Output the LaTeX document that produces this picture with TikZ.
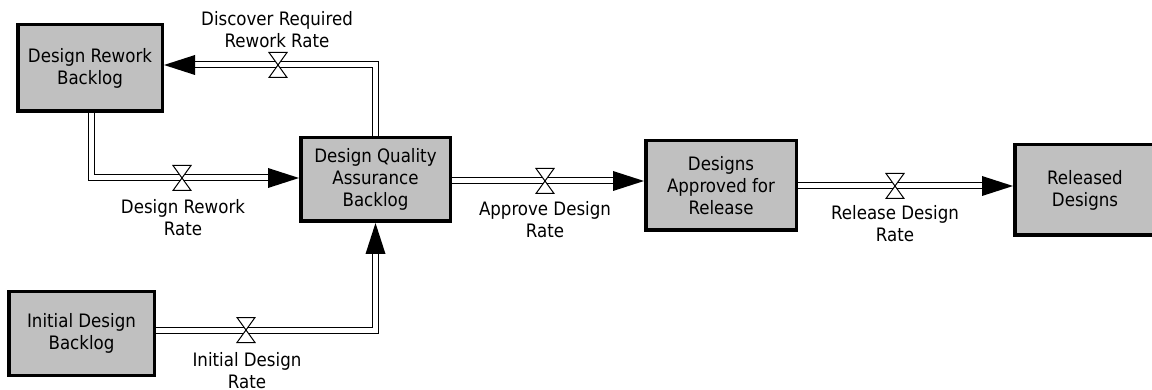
\documentclass[tikz,border=0pt]{standalone}
\usepackage{fontspec}
\setmainfont{DejaVu Sans Condensed}
\usetikzlibrary{calc}
\definecolor{boxgray}{RGB}{192,192,192}
\tikzset{
  stock/.style={draw=black, fill=boxgray, line width=3.5pt, inner sep=0pt, outer sep=1.75pt,
    align=center, font=\fontsize{18.5}{22}\selectfont, line join=miter},
  lbl/.style={align=center, font=\fontsize{18.5}{22}\selectfont, inner sep=0pt},
  pipe/.style={draw=black, double=white, double distance=5pt, line width=1pt, line join=miter},
  valve/.pic={\draw[line width=1pt, fill=white, line join=miter] (-9,-12.5) -- (9,-12.5) -- (-9,12.5) -- (9,12.5) -- cycle;},
}
\begin{document}
\begin{tikzpicture}[x=1pt,y=-1pt]
\useasboundingbox (0,0) rectangle (1152,390);
\clip (0,0) rectangle (1152,390);
% stocks
\node[stock, minimum width=144.5pt, minimum height=86.5pt] (drb) at (90,68) {Design Rework\\Backlog};
\node[stock, minimum width=149.5pt, minimum height=83.5pt] (dqa) at (375.5,179.5) {Design Quality\\Assurance\\Backlog};
\node[stock, minimum width=145.5pt, minimum height=83.5pt] (idb) at (81.5,333.5) {Initial Design\\Backlog};
\node[stock, minimum width=150.5pt, minimum height=89.5pt] (da) at (721,185.5) {Designs\\Approved for\\Release};
\node[stock, minimum width=140.5pt, minimum height=90.5pt] (rd) at (1085,190) {Released\\Designs};
% coordinates
\coordinate (c1) at (375.5,65);
\coordinate (a1) at (195,65);
\coordinate (c2) at (91.5,178);
\coordinate (a2) at (268,178);
\coordinate (c3) at (375.5,330);
\coordinate (a3) at (375.5,254);
\coordinate (a4) at (613,181);
\coordinate (a5) at (982,186);
% pipes
\draw[pipe] (dqa.north) -- (c1) -- (a1);
\draw[pipe] (c2 |- drb.south) -- (c2) -- (a2);
\draw[pipe] (idb.east |- c3) -- (c3) -- (a3);
\draw[pipe] (dqa.east |- a4) -- (a4);
\draw[pipe] (da.east |- a5) -- (a5);
% arrowheads
\fill (drb.east |- a1) -- ($(a1)+(0,-10)$) -- ($(a1)+(0,10)$) -- cycle;
\fill (dqa.west |- a2) -- ($(a2)+(0,-10)$) -- ($(a2)+(0,10)$) -- cycle;
\fill (a3 |- dqa.south) -- ($(a3)+(-10,0)$) -- ($(a3)+(10,0)$) -- cycle;
\fill (da.west |- a4) -- ($(a4)+(0,-10)$) -- ($(a4)+(0,10)$) -- cycle;
\fill (rd.west |- a5) -- ($(a5)+(0,-10)$) -- ($(a5)+(0,10)$) -- cycle;
% valves
\pic at (278,65) {valve};
\pic at (182,178) {valve};
\pic at (246,330) {valve};
\pic at (545,181) {valve};
\pic at (895,186) {valve};
% labels
\node[lbl] (l1) at (277,30) {Discover Required\\Rework Rate};
\node[lbl] (l2) at (183,217.5) {Design Rework\\Rate};
\node[lbl] (l3) at (247,370.5) {Initial Design\\Rate};
\node[lbl] (l4) at (545,220) {Approve Design\\Rate};
\node[lbl] (l5) at (895,224) {Release Design\\Rate};
\end{tikzpicture}
\end{document}
